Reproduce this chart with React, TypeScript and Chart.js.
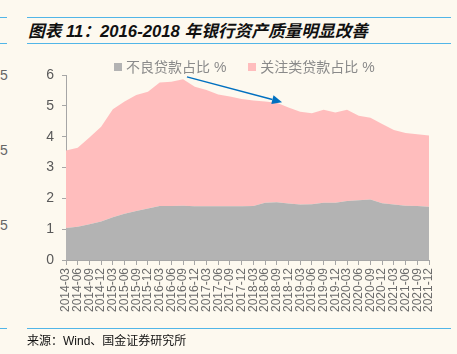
import React, { useEffect, useRef } from "react";
import { Chart, registerables } from "chart.js";

Chart.register(...registerables);

const categories = [
  "2014-03","2014-06","2014-09","2014-12","2015-03","2015-06","2015-09","2015-12",
  "2016-03","2016-06","2016-09","2016-12","2017-03","2017-06","2017-09","2017-12",
  "2018-03","2018-06","2018-09","2018-12","2019-03","2019-06","2019-09","2019-12",
  "2020-03","2020-06","2020-09","2020-12","2021-03","2021-06","2021-09","2021-12",
];

const nplRatio = [
  1.04, 1.08, 1.16, 1.25, 1.39, 1.50, 1.59, 1.67,
  1.75, 1.75, 1.76, 1.74, 1.74, 1.74, 1.74, 1.74,
  1.75, 1.86, 1.87, 1.83, 1.80, 1.81, 1.86, 1.86,
  1.91, 1.94, 1.96, 1.84, 1.80, 1.76, 1.75, 1.73,
];

const specialMentionRatio = [
  2.51, 2.56, 2.81, 3.07, 3.50, 3.64, 3.76, 3.79,
  4.01, 4.03, 4.10, 3.88, 3.77, 3.63, 3.56, 3.48,
  3.42, 3.28, 3.23, 3.12, 3.01, 2.95, 3.01, 2.92,
  2.96, 2.74, 2.65, 2.57, 2.42, 2.36, 2.33, 2.31,
];

const seriesNames = ["不良贷款占比 %", "关注类贷款占比 %"];
const yTicks = [0, 1, 2, 3, 4, 5, 6];
// arrow annotation in data coordinates: [categoryIndex, value]
const arrowFrom = [10.33, 5.94];
const arrowTo = [18.45, 5.12];

const GREY = "#b3b3b3";
const PINK = "#ffbdbd";
const BG = "#fdf9ef";
const LINE_BLUE = "#52b6e8";

const arrowPlugin = {
  id: "arrowAnno",
  afterDatasetsDraw(chart: any) {
    const { ctx, scales } = chart;
    const x1 = scales.x.getPixelForValue(arrowFrom[0]);
    const y1 = scales.y.getPixelForValue(arrowFrom[1]);
    const x2 = scales.x.getPixelForValue(arrowTo[0]);
    const y2 = scales.y.getPixelForValue(arrowTo[1]);
    const ang = Math.atan2(y2 - y1, x2 - x1);
    const headLen = 10;
    const headW = 4.5;
    const bx = x2 - headLen * Math.cos(ang);
    const by = y2 - headLen * Math.sin(ang);
    ctx.save();
    ctx.strokeStyle = "#0070c0";
    ctx.fillStyle = "#0070c0";
    ctx.lineWidth = 1.5;
    ctx.beginPath();
    ctx.moveTo(x1, y1);
    ctx.lineTo(bx, by);
    ctx.stroke();
    ctx.beginPath();
    ctx.moveTo(x2, y2);
    ctx.lineTo(bx + headW * Math.sin(ang), by - headW * Math.cos(ang));
    ctx.lineTo(bx - headW * Math.sin(ang), by + headW * Math.cos(ang));
    ctx.closePath();
    ctx.fill();
    ctx.restore();
  },
};

export default function App() {
  const ref = useRef<HTMLCanvasElement | null>(null);

  useEffect(() => {
    document.body.style.margin = "0";
    const canvas = ref.current!;
    const chart = new Chart(canvas, {
      type: "line",
      data: {
        labels: categories,
        datasets: [
          {
            label: seriesNames[0],
            data: nplRatio,
            backgroundColor: GREY,
            borderColor: GREY,
            borderWidth: 0,
            pointRadius: 0,
            fill: "origin",
            tension: 0,
          },
          {
            label: seriesNames[1],
            data: specialMentionRatio,
            backgroundColor: PINK,
            borderColor: PINK,
            borderWidth: 0,
            pointRadius: 0,
            fill: "-1",
            tension: 0,
          },
        ],
      },
      options: {
        responsive: false,
        animation: false,
        devicePixelRatio: 1,
        layout: { padding: { left: 26, right: 28, top: 75, bottom: 24 } },
        plugins: { legend: { display: false }, tooltip: { enabled: false } },
        scales: {
          x: {
            type: "category",
            offset: false,
            grid: {
              display: true,
              drawOnChartArea: false,
              drawTicks: true,
              tickLength: 5,
              color: "#a6a6a6",
            },
            border: { display: true, color: "#a6a6a6", width: 1 },
            ticks: {
              autoSkip: false,
              minRotation: 90,
              maxRotation: 90,
              padding: 3,
              color: "#6b6b6b",
              font: { family: "'Liberation Sans', Arial, sans-serif", size: 12 },
            },
            afterFit: (s: any) => {
              s.height = 70;
            },
          },
          y: {
            stacked: true,
            min: 0,
            max: 6,
            grid: {
              display: true,
              drawOnChartArea: false,
              drawTicks: true,
              tickLength: 4,
              color: "#a6a6a6",
            },
            border: { display: true, color: "#a6a6a6", width: 1 },
            afterBuildTicks: (s: any) => {
              s.ticks = yTicks.map((v) => ({ value: v }));
            },
            ticks: {
              padding: 8,
              color: "#595959",
              font: { family: "'Liberation Sans', Arial, sans-serif", size: 14 },
            },
            afterFit: (s: any) => {
              s.width = 40;
            },
          },
        },
      },
      plugins: [arrowPlugin],
    } as any);
    return () => chart.destroy();
  }, []);

  const cjk = "'Liberation Sans', 'Noto Sans CJK SC', sans-serif";

  return (
    <div
      style={{
        position: "fixed",
        left: 0,
        top: 0,
        width: 457,
        height: 354,
        background: BG,
        overflow: "hidden",
        fontFamily: cjk,
      }}
    >
      {/* top rules */}
      <div style={{ position: "absolute", left: 0, top: 17, width: 7, height: 1, background: LINE_BLUE }} />
      <div style={{ position: "absolute", left: 0, top: 43, width: 7, height: 1, background: LINE_BLUE }} />
      <div style={{ position: "absolute", left: 27, top: 17, width: 424, height: 1, background: LINE_BLUE }} />
      <div style={{ position: "absolute", left: 27, top: 43, width: 424, height: 1, background: LINE_BLUE }} />
      <div
        style={{
          position: "absolute",
          left: 28,
          top: 21,
          fontSize: 16.7,
          fontWeight: "bold",
          fontStyle: "italic",
          color: "#111",
          whiteSpace: "nowrap",
          lineHeight: "22px",
        }}
      >
        图表 11：2016-2018 年银行资产质量明显改善
      </div>
      {/* left cropped neighbour remnants */}
      {[75, 150, 225].map((y) => (
        <div
          key={y}
          style={{ position: "absolute", left: 0, top: y - 8, fontSize: 14, color: "#666", lineHeight: "16px" }}
        >
          5
        </div>
      ))}
      <canvas ref={ref} width={457} height={354} style={{ position: "absolute", left: 0, top: 0 }} />
      {/* legend */}
      <div
        style={{
          position: "absolute",
          left: 114,
          top: 58,
          display: "flex",
          alignItems: "center",
          fontSize: 14,
          color: "#8a8a8a",
          whiteSpace: "nowrap",
          lineHeight: "18px",
        }}
      >
        <span style={{ display: "inline-block", width: 8, height: 8, background: GREY, marginRight: 4 }} />
        <span>{seriesNames[0]}</span>
        <span style={{ display: "inline-block", width: 8, height: 8, background: PINK, marginLeft: 22, marginRight: 4 }} />
        <span>{seriesNames[1]}</span>
      </div>
      {/* bottom rule and source */}
      <div style={{ position: "absolute", left: 0, top: 328, width: 7, height: 1, background: LINE_BLUE }} />
      <div style={{ position: "absolute", left: 27, top: 328, width: 424, height: 1, background: LINE_BLUE }} />
      <div
        style={{
          position: "absolute",
          left: 27,
          top: 333,
          fontSize: 12,
          color: "#111",
          whiteSpace: "nowrap",
          lineHeight: "16px",
        }}
      >
        来源：Wind、国金证券研究所
      </div>
    </div>
  );
}
